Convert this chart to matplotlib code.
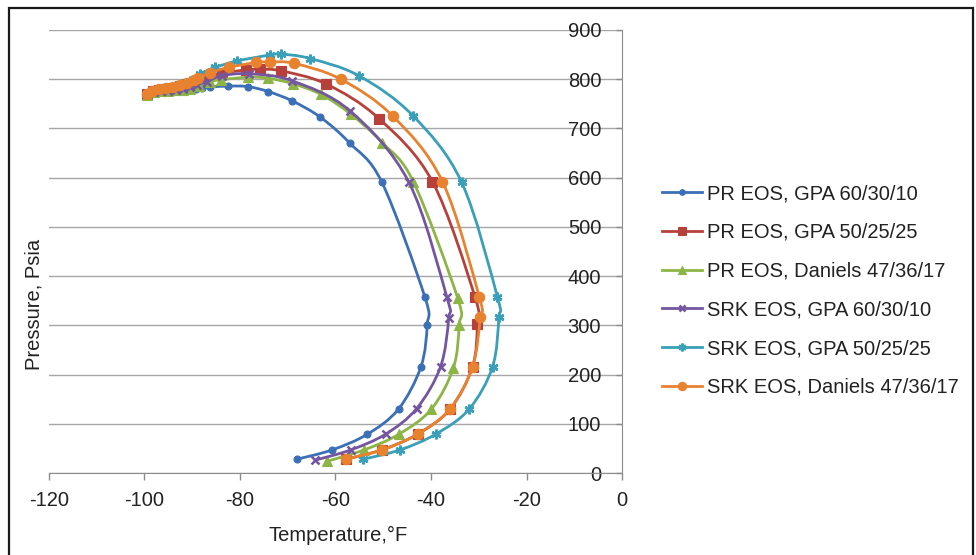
import numpy as np
import matplotlib
matplotlib.use('Agg')
import matplotlib.pyplot as plt
from matplotlib.path import Path
from matplotlib.patches import PathPatch, Rectangle
from matplotlib.lines import Line2D

plt.rcParams['font.family'] = ['Liberation Sans', 'DejaVu Sans']
plt.rcParams['axes.unicode_minus'] = False

FS = 14.5

# ── 讀圖估計的相包絡線資料（溫度 °F, 壓力 psia） ──
pr_gpa1_T = [-99.2, -98, -96.5, -95, -93.5, -92, -90.5, -89.2, -88.0, -86.3, -82.6, -78.4,
             -74.1, -69.1, -63.2, -57.0, -50.3, -41.3, -40.8, -42.1, -46.8, -53.3, -60.7, -68.1]
pr_gpa1_P = [770, 774, 776, 777, 777, 777, 778, 780, 782, 784, 786, 785,
             775, 756, 723, 670, 591, 358, 301, 216, 130, 79, 47, 28]

pr_gpa2_T = [-99.5, -98.3, -97, -95.5, -94, -92.5, -91, -89.5, -87.0, -83.8, -78.7, -75.8,
             -71.4, -61.9, -50.9, -39.7, -30.8, -30.3, -31.3, -36.0, -42.8, -50.3, -57.9]
pr_gpa2_P = [770, 776, 779, 781, 783, 786, 790, 795, 804, 812, 819, 820,
             817, 790, 720, 592, 358, 302, 216, 130, 79, 47, 28]

pr_dan_T = [-99.5, -98, -96.5, -95, -93.5, -92, -90.5, -88.5, -86.3, -84.0, -78.3, -74.2,
            -69.0, -63.0, -56.8, -50.2, -43.7, -34.4, -34.1, -35.3, -39.9, -46.7, -54.0, -61.7]
pr_dan_P = [768, 773, 776, 777, 778, 779, 781, 786, 795, 799, 804, 802,
            791, 769, 729, 671, 592, 355, 301, 214, 130, 79, 47, 24]

srk_gpa1_T = [-99.5, -98, -96.5, -95, -93.5, -92, -90.5, -89, -87.0, -83.8, -78.1,
              -69.2, -57.0, -44.7, -36.7, -36.3, -38.0, -43.0, -49.5, -56.8, -64.3]
srk_gpa1_P = [769, 774, 776, 777, 778, 780, 784, 789, 795, 807, 811,
              797, 736, 592, 358, 314, 216, 131, 79, 47, 26]

srk_gpa2_T = [-99.5, -98, -96.5, -95, -93.5, -92, -90.5, -88.4, -85.2, -80.6, -73.8, -71.4,
              -65.3, -55.1, -43.8, -33.6, -26.1, -25.8, -27.1, -32.0, -39.0, -46.5, -54.2]
srk_gpa2_P = [770, 776, 780, 783, 786, 790, 797, 811, 824, 837, 849, 851,
              842, 807, 726, 591, 358, 316, 216, 130, 79, 47, 28]

srk_dan_T = [-99.5, -98.5, -97, -95.5, -94, -92.5, -91, -89.7, -88.7, -86.3, -82.4, -76.6,
             -73.7, -68.6, -58.9, -48.0, -37.6, -29.9, -29.7, -31.3, -36.0, -42.8, -50.3, -57.9]
srk_dan_P = [770, 776, 780, 783, 785, 788, 793, 798, 803, 813, 824, 834,
             835, 832, 800, 725, 592, 358, 316, 216, 130, 79, 47, 28]

series = [
    ('PR EOS, GPA 60/30/10', pr_gpa1_T, pr_gpa1_P, '#3b6fb6', 'o', 5.0),
    ('PR EOS, GPA 50/25/25', pr_gpa2_T, pr_gpa2_P, '#b8403b', 's', 6.5),
    ('PR EOS, Daniels 47/36/17', pr_dan_T, pr_dan_P, '#8db545', '^', 6.5),
    ('SRK EOS, GPA 60/30/10', srk_gpa1_T, srk_gpa1_P, '#7456a0', 'x', 6.0),
    ('SRK EOS, GPA 50/25/25', srk_gpa2_T, srk_gpa2_P, '#3a9fb8', (6, 2, 0), 7.0),
    ('SRK EOS, Daniels 47/36/17', srk_dan_T, srk_dan_P, '#e8822f', 'o', 7.5),
]


def smooth_path(xs, ys):
    # Excel 式平滑線：Catmull-Rom 轉三次 Bezier
    pts = np.column_stack([xs, ys]).astype(float)
    n = len(pts)
    verts = [pts[0]]
    codes = [Path.MOVETO]
    for i in range(n - 1):
        p0 = pts[i - 1] if i > 0 else pts[i]
        p1, p2 = pts[i], pts[i + 1]
        p3 = pts[i + 2] if i + 2 < n else pts[i + 1]
        verts += [p1 + (p2 - p0) / 6.0, p2 - (p3 - p1) / 6.0, p2]
        codes += [Path.CURVE4] * 3
    return Path(verts, codes)


fig = plt.figure(figsize=(9.76, 5.55), dpi=100)
ax = fig.add_axes([0.0502, 0.1477, 0.5871, 0.7983])

handles = []
for k, (lab, T, P, col, mk, ms) in enumerate(series):
    ax.add_patch(PathPatch(smooth_path(T, P), fill=False, edgecolor=col,
                           lw=2.0, zorder=3 + 2 * k, capstyle='round'))
    mew = 1.8 if mk in ('x',) or isinstance(mk, tuple) else 0.8
    ax.plot(T, P, ls='none', marker=mk, ms=ms, color=col, mec=col, mew=mew,
            zorder=4 + 2 * k, clip_on=False)
    handles.append(Line2D([], [], color=col, lw=2.0, marker=mk, ms=ms * 0.8,
                          mec=col, mew=mew))

ax.set_xlim(-120, 0)
ax.set_ylim(0, 900)
ax.set_xticks(range(-120, 1, 20))
ax.set_yticks(range(0, 901, 100))

for s in ('top', 'right'):
    ax.spines[s].set_visible(False)
ax.spines['left'].set_position(('data', 0))
ax.spines['left'].set_color('#8c8c8c')
ax.spines['bottom'].set_color('#8c8c8c')
ax.spines['left'].set_zorder(2)
ax.grid(axis='y', color='#a6a6a6', lw=1.0, zorder=1)
ax.set_axisbelow(True)
ax.tick_params(axis='y', direction='out', length=4, width=1, color='#8c8c8c',
               pad=11, labelsize=FS, labelcolor='#222222')
ax.tick_params(axis='x', direction='out', length=5, width=1, color='#8c8c8c',
               pad=8, labelsize=FS, labelcolor='#222222')

fig.text(0.346, 0.036, 'Temperature,°F', ha='center', va='center',
         fontsize=FS, color='#222222')
fig.text(0.035, 0.452, 'Pressure, Psia', ha='center', va='center',
         rotation=90, fontsize=FS, color='#222222')

fig.legend(handles, [s[0] for s in series], loc='upper left',
           bbox_to_anchor=(0.678, 0.668), frameon=False, borderaxespad=0,
           borderpad=0, fontsize=FS, handlelength=2.0, handletextpad=0.25,
           labelspacing=0.98, labelcolor='#222222')

# 外框
fig.patches.append(Rectangle((9 / 976, -0.05), (973 - 9) / 976, 1.05 - 8 / 555,
                             transform=fig.transFigure, fill=False,
                             edgecolor='#1a1a1a', lw=1.6))

fig.savefig('out.png', dpi=100)
